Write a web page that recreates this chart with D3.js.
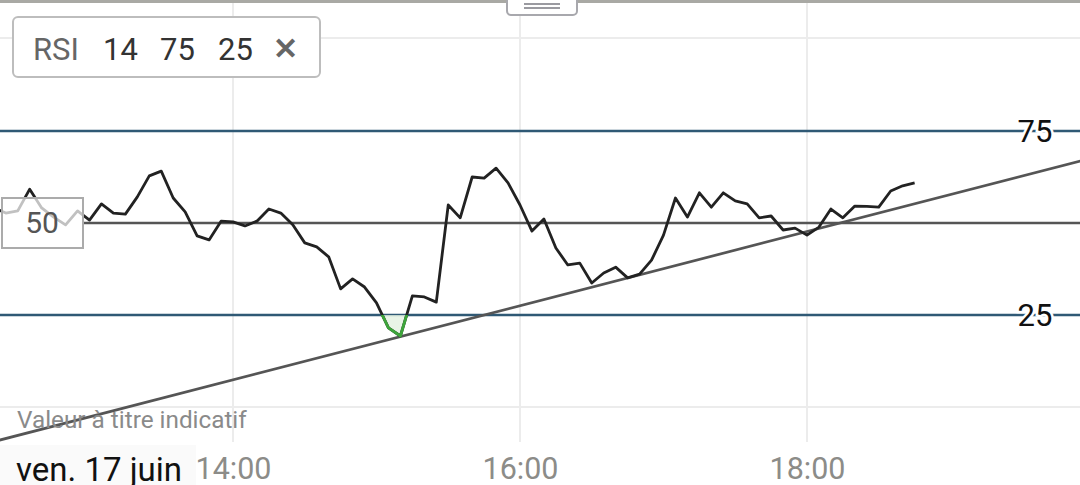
<!DOCTYPE html>
<html>
<head>
<meta charset="utf-8">
<script src="https://cdn.jsdelivr.net/npm/d3@7"></script>
<style>
  html, body { margin: 0; padding: 0; background: #fff; }
  svg { display: block; font-family: Roboto, "Noto Sans", sans-serif; }
</style>
</head>
<body>
<svg id="chart" width="1080" height="485"></svg>
<script>
// ---- data ----
const times = ["12:20","12:25","12:30","12:35","12:40","12:45","12:50","12:55",
  "13:00","13:05","13:10","13:15","13:20","13:25","13:30","13:35","13:40","13:45","13:50","13:55",
  "14:00","14:05","14:10","14:15","14:20","14:25","14:30","14:35","14:40","14:45","14:50","14:55",
  "15:00","15:05","15:10","15:15","15:20","15:25","15:30","15:35","15:40","15:45","15:50","15:55",
  "16:00","16:05","16:10","16:15","16:20","16:25","16:30","16:35","16:40","16:45","16:50","16:55",
  "17:00","17:05","17:10","17:15","17:20","17:25","17:30","17:35","17:40","17:45","17:50","17:55",
  "18:00","18:05","18:10","18:15","18:20","18:25","18:30","18:35","18:40","18:45"];
const rsiValues = [54.1,52.7,53.3,59.2,54.1,51.6,49.5,53.3,
  50.8,55.2,52.7,52.4,57.1,62.8,64.1,56.8,53.0,46.5,45.4,50.5,
  50.3,49.2,50.5,53.8,52.7,49.5,44.6,43.5,40.8,32.1,34.8,32.6,
  28.3,21.5,19.3,30.2,29.9,28.5,54.9,51.4,62.5,62.2,64.9,60.9,
  54.9,47.8,51.1,43.2,38.6,39.1,33.7,36.4,38.0,35.1,36.1,39.9,
  46.7,56.8,51.6,58.2,54.3,58.2,56.0,55.2,51.4,51.9,48.1,48.6,
  46.7,48.9,53.8,51.4,54.6,54.5,54.3,58.7,60.1,60.9];
const trendTimes = ["12:20","20:00"];
const trendValues = [-9.4, 67.8];
const levels = [75, 50, 25];
const tickTimes = ["14:00","16:00","18:00"];
const tickLabels = ["14:00","16:00","18:00"];
const legendTokens = ["RSI","14","75","25"];
const dateLabel = "ven. 17 juin";
const noteLabel = "Valeur à titre indicatif";

// ---- scales ----
const parse = t => { const [h,m] = t.split(":").map(Number); return new Date(2022,5,17,h,m); };
const W = 1080, H = 485;
const x = d3.scaleTime()
  .domain([parse("14:00"), parse("18:00")])
  .range([233, 807]);
const y = d3.scaleLinear().domain([25, 75]).range([315, 131]);

const svg = d3.select("#chart");
const data = times.map((t,i) => ({t: parse(t), v: rsiValues[i]}));

const defs = svg.append("defs");
defs.append("clipPath").attr("id","plot").append("rect")
  .attr("x",0).attr("y",0).attr("width",W).attr("height",442);
defs.append("clipPath").attr("id","below25").append("rect")
  .attr("x",0).attr("y",y(25)).attr("width",W).attr("height",442 - y(25));

// grid
const gridColor = "#ececec";
svg.append("g").selectAll("line").data(tickTimes).join("line")
  .attr("x1", d => x(parse(d))).attr("x2", d => x(parse(d)))
  .attr("y1", 0).attr("y2", 442)
  .attr("stroke", gridColor).attr("stroke-width", 2);
svg.append("g").selectAll("line").data([38, 407]).join("line")
  .attr("x1", 0).attr("x2", W).attr("y1", d => d).attr("y2", d => d)
  .attr("stroke", gridColor).attr("stroke-width", 2);

// top border + handle
svg.append("line").attr("x1",0).attr("x2",W).attr("y1",1.5).attr("y2",1.5)
  .attr("stroke","#a9a9a4").attr("stroke-width",3);
svg.append("rect").attr("x",507).attr("y",-6).attr("width",70).attr("height",21)
  .attr("rx",4).attr("fill","#fff").attr("stroke","#a8a8ad").attr("stroke-width",2);
svg.append("line").attr("x1",524).attr("x2",560).attr("y1",4).attr("y2",4)
  .attr("stroke","#9a9aa0").attr("stroke-width",2);
svg.append("line").attr("x1",524).attr("x2",560).attr("y1",8).attr("y2",8)
  .attr("stroke","#9a9aa0").attr("stroke-width",2);

// level lines
svg.append("line").attr("x1",83).attr("x2",W).attr("y1",y(50)).attr("y2",y(50))
  .attr("stroke","#555").attr("stroke-width",2.4);
svg.append("g").selectAll("line").data([75,25]).join("line")
  .attr("x1",0).attr("x2",W).attr("y1", d => y(d)).attr("y2", d => y(d))
  .attr("stroke","#2f5975").attr("stroke-width",2.7);

// oversold fill
const area = d3.area().x(d => x(d.t)).y0(y(25)).y1(d => y(d.v));
svg.append("path").datum(data).attr("d", area)
  .attr("clip-path","url(#below25)").attr("fill","#e3f1e1").attr("opacity",0.8);

// trend line
const trend = trendTimes.map((t,i) => ({t: parse(t), v: trendValues[i]}));
const line = d3.line().x(d => x(d.t)).y(d => y(d.v));
svg.append("path").datum(trend).attr("d", line)
  .attr("clip-path","url(#plot)")
  .attr("fill","none").attr("stroke","#555").attr("stroke-width",2.7);

// RSI line
svg.append("path").datum(data).attr("d", line)
  .attr("fill","none").attr("stroke","#222").attr("stroke-width",2.8)
  .attr("stroke-linejoin","round");
svg.append("path").datum(data).attr("d", line)
  .attr("clip-path","url(#below25)")
  .attr("fill","none").attr("stroke","#3da53a").attr("stroke-width",2.8)
  .attr("stroke-linejoin","round");

// level labels on right
svg.append("g").selectAll("text").data([75,25]).join("text")
  .attr("x", 1035).attr("y", d => y(d) + 11)
  .attr("text-anchor","middle").attr("font-size",31)
  .attr("fill","#111")
  .attr("stroke","#fff").attr("stroke-width",5).attr("paint-order","stroke")
  .text(d => d);

// 50 label box
svg.append("rect").attr("x",2).attr("y",198).attr("width",81).attr("height",50)
  .attr("fill","#fff").attr("fill-opacity",0.72)
  .attr("stroke","#ababab").attr("stroke-width",2);
svg.append("text").attr("x",42).attr("y",233).attr("text-anchor","middle")
  .attr("font-size",30).attr("fill","#555").text(levels[1]);

// note
svg.append("text").attr("x",17).attr("y",428).attr("font-size",24.3)
  .attr("fill","#8a8a8a").text(noteLabel);

// x axis
const axis = d3.axisBottom(x).tickValues(tickTimes.map(parse))
  .tickFormat((d,i) => tickLabels[i]).tickSize(0);
const ag = svg.append("g").attr("transform","translate(0,479)").call(axis);
ag.select(".domain").remove();
ag.selectAll("text").attr("font-size",30.5).attr("fill","#8c8c88")
  .attr("font-family","Roboto, sans-serif").attr("y",0).attr("dy",0);

// date label
svg.append("rect").attr("x",0).attr("y",445).attr("width",196).attr("height",40)
  .attr("fill","#fafafa");
svg.append("text").attr("x",16).attr("y",481).attr("font-size",33)
  .attr("fill","#111").text(dateLabel);

// legend
svg.append("rect").attr("x",13).attr("y",17).attr("width",307).attr("height",60)
  .attr("rx",5).attr("fill","#fff").attr("stroke","#bdbdbd").attr("stroke-width",2);
const legendX = [33, 103, 160, 218];
svg.append("g").selectAll("text").data(legendTokens).join("text")
  .attr("x", (d,i) => legendX[i]).attr("y", 60).attr("font-size", 31)
  .attr("fill", (d,i) => i === 0 ? "#666" : "#333").text(d => d);
svg.append("text").attr("x",285).attr("y",59).attr("text-anchor","middle")
  .attr("font-size",30).attr("font-weight","bold").attr("fill","#666").text("✕");
</script>
</body>
</html>
